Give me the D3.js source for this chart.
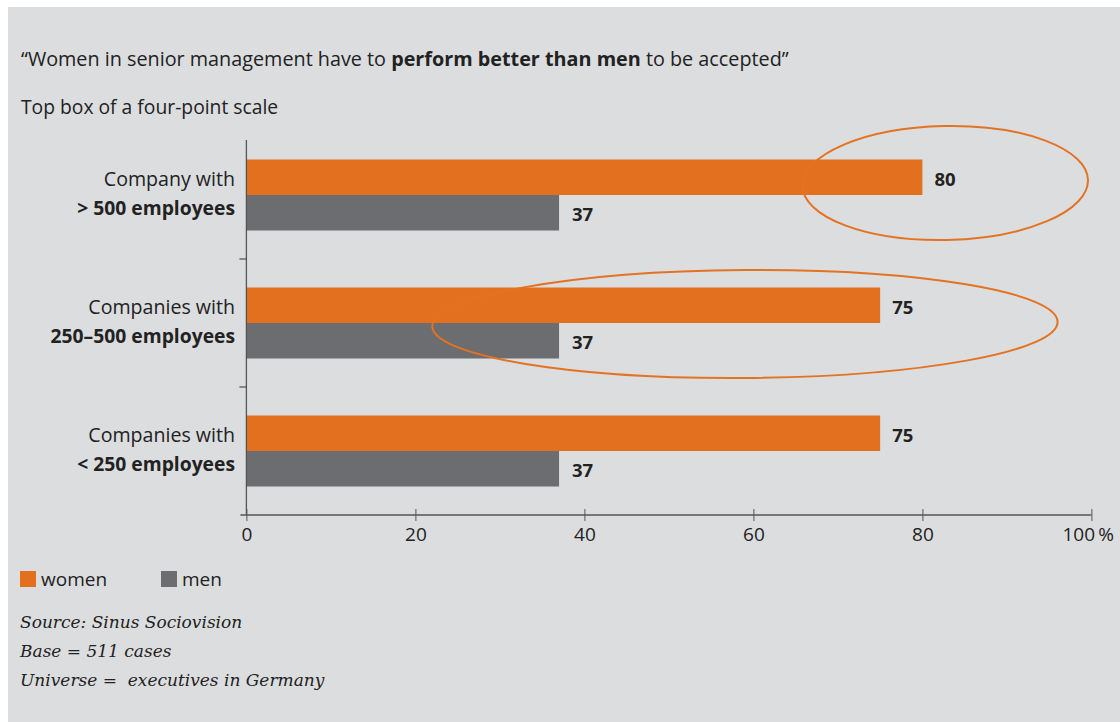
<!DOCTYPE html>
<html>
<head>
<meta charset="utf-8">
<script src="https://cdn.jsdelivr.net/npm/d3@7"></script>
<style>
  html, body { margin: 0; padding: 0; background: #ffffff; }
  svg { display: block; }
  text { font-family: "Open Sans", sans-serif; fill: #222222; }
</style>
</head>
<body>
<svg id="chart" width="1120" height="722"></svg>
<script>
// Survey groups (top to bottom) and their labels
const categories = ["gt500", "250to500", "lt250"];
const categoryLine1 = ["Company with", "Companies with", "Companies with"];
const categoryLine2 = ["> 500 employees", "250–500 employees", "< 250 employees"];

// Share agreeing (top box), percent
const women = [80, 75, 75];
const men = [37, 37, 37];

const seriesNames = ["women", "men"];
const xTicks = [0, 20, 40, 60, 80, 100];

// Highlighted groups: x-centre and x-radius in value units
const highlights = [
  { cat: "gt500", cx: 82.7, rx: 16.9, ry: 57, dy: -12, tilt: -1.2 },
  { cat: "250to500", cx: 59, rx: 37, ry: 54, dy: 1, tilt: -0.4 }
];

const W = 1120, H = 722;
const orange = "#e2701e";
const grey = "#6c6d71";
const fs = "19px";

const svg = d3.select("#chart");

// panel background
svg.append("rect").attr("x", 8).attr("y", 7).attr("width", W - 8).attr("height", H - 7)
  .attr("fill", "#dcdddf");

const margin = { left: 246.4, right: 1091.4, top: 131, bottom: 515 };

const x = d3.scaleLinear().domain([0, 100]).range([margin.left, margin.right]);
const y = d3.scaleBand().domain(categories).range([margin.top, margin.bottom]).paddingInner(0).paddingOuter(0);
const barH = 35.5;

// title
const title = svg.append("text").attr("x", 21).attr("y", 66).style("font-size", "19.8px");
title.append("tspan").text("“Women in senior management have to ");
title.append("tspan").style("font-weight", "700").text("perform better than men");
title.append("tspan").text(" to be accepted”");

svg.append("text").attr("x", 21).attr("y", 114).style("font-size", "19.3px")
  .text("Top box of a four-point scale");

// bars
const g = svg.append("g");
categories.forEach((c, i) => {
  const cy = y(c) + y.bandwidth() / 2;
  g.append("rect").attr("x", x(0)).attr("y", cy - barH)
    .attr("width", x(women[i]) - x(0)).attr("height", barH).attr("fill", orange);
  g.append("rect").attr("x", x(0)).attr("y", cy)
    .attr("width", x(men[i]) - x(0)).attr("height", barH).attr("fill", grey);

  g.append("text").attr("x", x(women[i]) + 12).attr("y", cy - barH / 2 + 8.5)
    .style("font-size", "18.5px").style("font-weight", "700").text(women[i]);
  g.append("text").attr("x", x(men[i]) + 13).attr("y", cy + barH / 2 + 8.5)
    .style("font-size", "18.5px").style("font-weight", "700").text(men[i]);

  // category labels
  g.append("text").attr("x", 235).attr("y", cy - 9).attr("text-anchor", "end")
    .style("font-size", "19.6px").text(categoryLine1[i]);
  g.append("text").attr("x", 235).attr("y", cy + 20).attr("text-anchor", "end")
    .style("font-size", "19.3px").style("font-weight", "700").text(categoryLine2[i]);
});

// x axis
const xAxis = svg.append("g").attr("transform", `translate(0,${margin.bottom})`)
  .call(d3.axisBottom(x).tickValues(xTicks).tickSize(6).tickPadding(4)
    .tickFormat(d => d === 100 ? "100\u2009%" : d));
xAxis.select(".domain").attr("stroke", "#555").attr("stroke-width", 1.6)
  .attr("d", `M${margin.left - 6},0H${margin.right}`);
xAxis.selectAll(".tick line").attr("stroke", "#555").attr("y1", -6).attr("y2", 6);
xAxis.selectAll(".tick text").style("font-size", "19px").style("font-family", "'Open Sans', sans-serif")
  .attr("fill", "#222").attr("dy", "0.85em");
xAxis.selectAll(".tick").filter(d => d === 100).select("text")
  .attr("text-anchor", "end").attr("x", 22);

// y axis line with separators between groups
const yAxis = svg.append("g").attr("transform", `translate(${margin.left},0)`)
  .call(d3.axisLeft(y).tickValues([]).tickSize(0));
yAxis.select(".domain").attr("stroke", "#555").attr("stroke-width", 1.3)
  .attr("d", `M0,${margin.top + 9}V${margin.bottom}`);
categories.slice(1).forEach(c => {
  yAxis.append("line").attr("x1", -7).attr("x2", 0)
    .attr("y1", y(c)).attr("y2", y(c)).attr("stroke", "#555").attr("stroke-width", 1.3);
});

// highlight ellipses
highlights.forEach(h => {
  const cx = x(h.cx);
  const cy = y(h.cat) + y.bandwidth() / 2 + h.dy;
  svg.append("ellipse")
    .attr("cx", cx).attr("cy", cy)
    .attr("rx", x(h.rx) - x(0)).attr("ry", h.ry)
    .attr("transform", `rotate(${h.tilt},${cx},${cy})`)
    .attr("fill", "none").attr("stroke", "#e37322").attr("stroke-width", 2);
});

// legend
const legend = svg.append("g").attr("transform", "translate(20,571)");
seriesNames.forEach((s, i) => {
  const lg = legend.append("g").attr("transform", `translate(${i * 141},0)`);
  lg.append("rect").attr("width", 16).attr("height", 16).attr("fill", i === 0 ? orange : grey);
  lg.append("text").attr("x", 21).attr("y", 15).style("font-size", fs).text(s);
});

// notes
const notes = ["Source: Sinus Sociovision", "Base = 511 cases", "Universe =\u00a0 executives in Germany"];
svg.append("g").selectAll("text").data(notes).join("text")
  .attr("x", 20).attr("y", (d, i) => 628 + i * 29)
  .style("font-family", "'DejaVu Serif', serif").style("font-style", "italic")
  .style("font-size", "17px").text(d => d);
</script>
</body>
</html>
